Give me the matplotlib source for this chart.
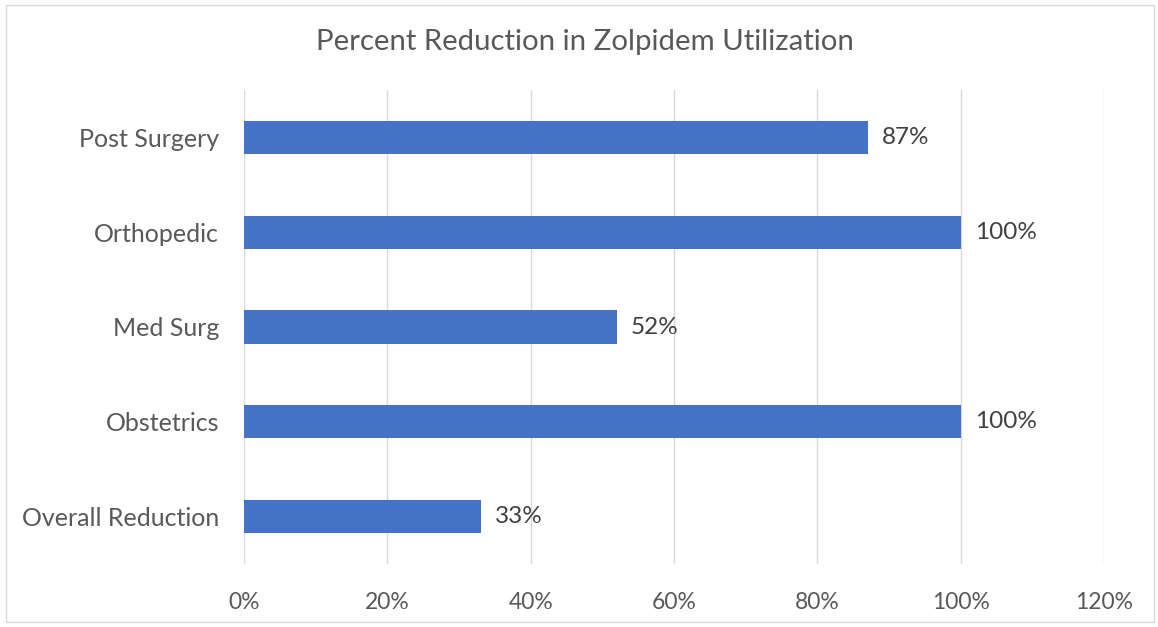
import matplotlib.pyplot as plt
from matplotlib.patches import Rectangle

categories = ["Post Surgery", "Orthopedic", "Med Surg", "Obstetrics", "Overall Reduction"]
values = [87, 100, 52, 100, 33]
xticks = [0, 20, 40, 60, 80, 100, 120]
xtick_labels = ["0%", "20%", "40%", "60%", "80%", "100%", "120%"]

plt.rcParams['font.family'] = ['Lato', 'DejaVu Sans']
txt = '#595959'

fig = plt.figure(figsize=(11.58, 6.27), dpi=100)
ax = fig.add_axes([244/1158, 1-564/627, (1104-244)/1158, (564-90)/627])

ypos = list(range(len(categories)))[::-1]
ax.barh(ypos, values, height=0.35, color='#4472C4', zorder=3)
for y, v in zip(ypos, values):
    ax.text(v + 2.0, y, f"{v}%", va='center', ha='left', fontsize=17.5, color='#404040')

ax.set_xlim(0, 120)
ax.set_ylim(-0.5, len(categories) - 0.5)
ax.set_xticks(xticks)
ax.set_xticklabels(xtick_labels, fontsize=16.5, color=txt)
ax.set_yticks(ypos)
ax.set_yticklabels(categories, fontsize=18, color=txt)
ax.tick_params(axis='both', length=0)
ax.tick_params(axis='x', pad=20)
ax.tick_params(axis='y', pad=18)
ax.grid(axis='x', color='#D9D9D9', linewidth=1, zorder=0)
for s in ax.spines.values():
    s.set_visible(False)

fig.text(585/1158, 1-42/627, "Percent Reduction in Zolpidem Utilization", ha='center', va='center',
         fontsize=21.2, color=txt)

fig.patches.append(Rectangle((6/1158, 5/627), 1148/1158, 617/627, transform=fig.transFigure,
                             fill=False, edgecolor='#D9D9D9', linewidth=1))

fig.savefig('out.png', dpi=100)
